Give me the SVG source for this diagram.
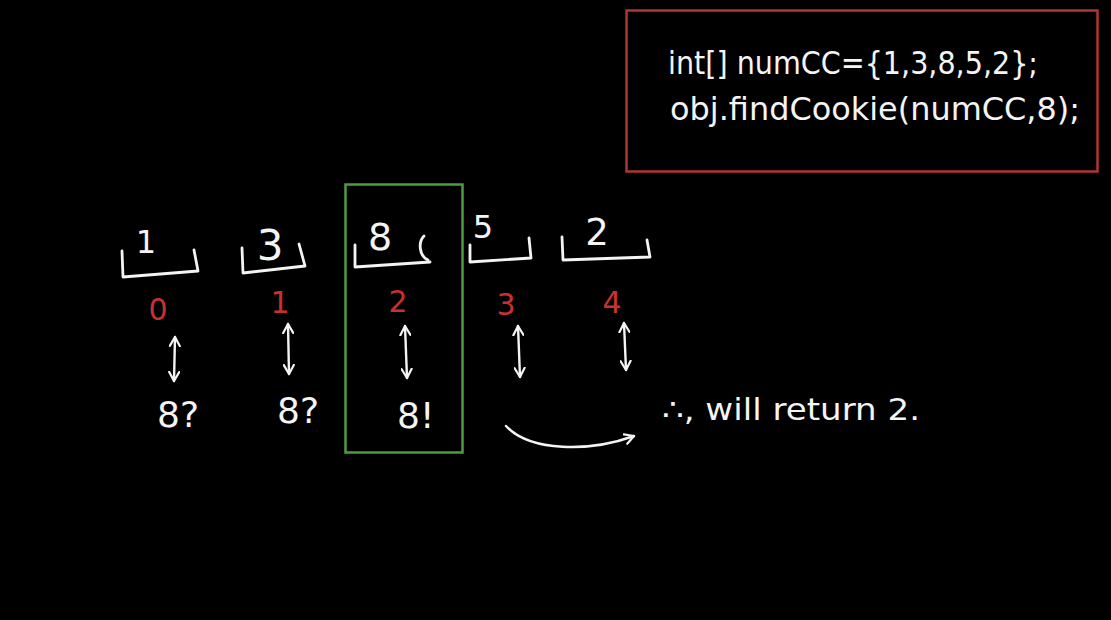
<svg xmlns="http://www.w3.org/2000/svg" width="1111" height="620" viewBox="0 0 1111 620">
<defs>
<marker id="head" viewBox="0 0 12 12" refX="10" refY="6" markerWidth="12" markerHeight="12" markerUnits="userSpaceOnUse" orient="auto-start-reverse">
<path d="M1,1 L10,6 L1,11" fill="none" stroke="#f4f4f4" stroke-width="2.2" stroke-linecap="round" stroke-linejoin="round"/>
</marker>
<style>
.w{fill:#f4f4f4;font-family:"DejaVu Sans","Liberation Sans",sans-serif}
.r{fill:#c8322e;font-family:"DejaVu Sans","Liberation Sans",sans-serif;font-size:30px;text-anchor:middle}
.br{fill:none;stroke:#f4f4f4;stroke-width:2.8;stroke-linecap:round;stroke-linejoin:round}
.ar{fill:none;stroke:#f4f4f4;stroke-width:2.4;stroke-linecap:round;marker-start:url(#head);marker-end:url(#head)}
.d{text-anchor:middle}
.q{font-size:36px}
</style>
</defs>
<rect width="1111" height="620" fill="#000"/>

<g id="code">
<rect x="626.5" y="10.5" width="471" height="161" fill="none" stroke="#b23535" stroke-width="2.5"/>
<text class="w" x="668" y="74" font-size="32" textLength="370" lengthAdjust="spacingAndGlyphs">int[] numCC={1,3,8,5,2};</text>
<text class="w" x="670" y="120" font-size="32" textLength="410" lengthAdjust="spacingAndGlyphs">obj.findCookie(numCC,8);</text>
</g>

<g id="highlight">
<rect x="345.5" y="184.5" width="117" height="268" fill="none" stroke="#4f9b45" stroke-width="2.5"/>
</g>

<g id="cell0">
<path class="br" d="M122,251 L123,277 L198,271 L194,250"/>
<text class="w d" x="146" y="253" font-size="32">1</text>
<text class="r" x="158" y="320">0</text>
<text class="w q" x="157" y="427">8?</text>
</g>
<g id="cell1">
<path class="br" d="M242,248 L243,273 L305,266 L299,244"/>
<text class="w d" x="270" y="260" font-size="42">3</text>
<text class="r" x="280" y="313">1</text>
<text class="w q" x="277" y="423">8?</text>
</g>
<g id="cell2">
<path class="br" d="M355,245 L355,267 L430,262"/>
<path class="br" d="M424,236 C418,242 419,256 428,260"/>
<text class="w d" x="380" y="250" font-size="38">8</text>
<text class="r" x="398" y="312">2</text>
<text class="w q" x="397" y="428">8!</text>
</g>
<g id="cell3">
<path class="br" d="M470,245 L470,262 L531,258 L529,238"/>
<text class="w d" x="483" y="238" font-size="32">5</text>
<text class="r" x="506" y="315">3</text>
</g>
<g id="cell4">
<path class="br" d="M562,237 L563,260 L650,257 L647,240"/>
<text class="w d" x="597" y="245" font-size="37">2</text>
<text class="r" x="612" y="313">4</text>
</g>

<g id="connectors">
<path class="ar" d="M175,337 L174,381"/>
<path class="ar" d="M288,324 L289,374"/>
<path class="ar" d="M405,326 L407,378"/>
<path class="ar" d="M518,326 L520,377"/>
<path class="ar" d="M624,323 L626,370"/>
<path class="ar" style="marker-start:none" d="M506,426 C530,452 590,452 634,436"/>
</g>

<g id="result">
<text class="w" x="662" y="420" font-size="30" textLength="258" lengthAdjust="spacingAndGlyphs">∴, will return 2.</text>
</g>
</svg>
